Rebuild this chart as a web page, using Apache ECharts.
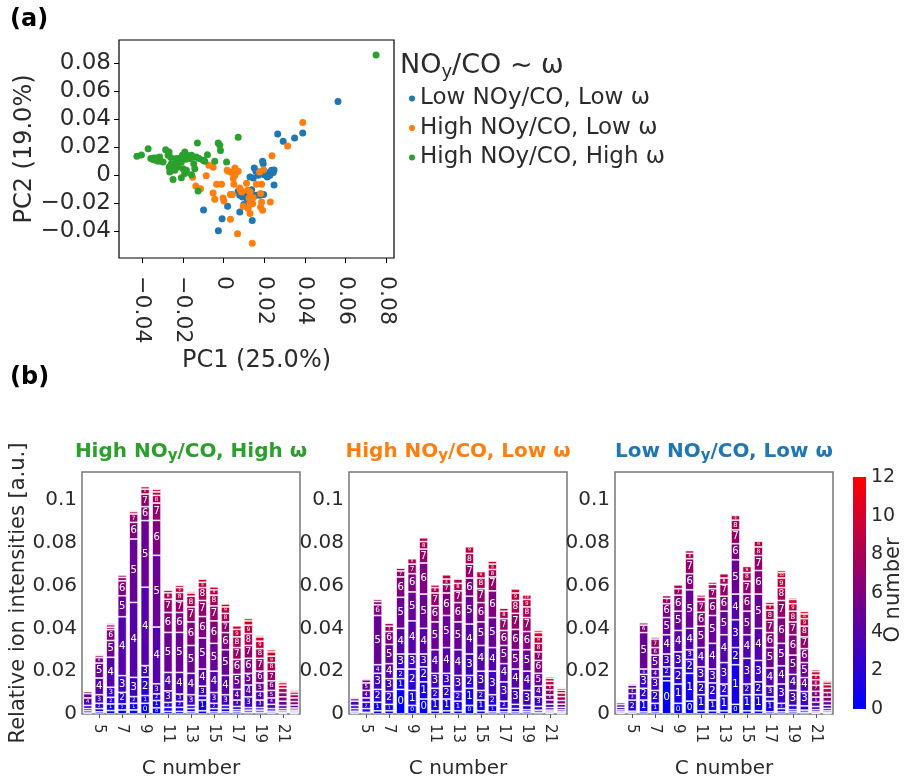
<!DOCTYPE html>
<html>
<head>
<meta charset="utf-8">
<script src="https://cdn.jsdelivr.net/npm/echarts@6/dist/echarts.min.js"></script>
<style>
  html, body { margin: 0; padding: 0; background: #fff; }
  #chart { width: 905px; height: 780px; }
</style>
</head>
<body>
<div id="chart"></div>
<script>
const FONT = 'DejaVu Sans';

// ---- (a) PCA scores: [PC1, PC2] ----
const lowLow = [
  [0.0562,0.0524],[0.0266,0.0293],[0.0293,0.0240],[0.0349,0.0264],[0.0389,0.0300],
  [0.0192,0.0098],[0.0195,0.0081],[0.0151,0.0050],[0.0159,0.0026],[0.0130,-0.0014],
  [0.0146,-0.0021],[0.0170,-0.0002],[0.0179,0.0021],[0.0195,0.0026],[0.0211,0.0010],
  [0.0225,0.0017],[0.0236,0.0033],[0.0248,0.0036],[0.0244,0.0017],[0.0228,-0.0002],
  [0.0215,-0.0014],[0.0200,0.0002],[0.0248,-0.0071],[0.0097,-0.0133],[0.0113,-0.0140],
  [0.0130,-0.0133],[0.0146,-0.0145],[0.0162,-0.0145],[0.0179,-0.0145],[0.0197,-0.0140],
  [0.0072,-0.0114],[0.0080,-0.0145],[0.0093,-0.0157],[0.0138,-0.0105],[0.0116,-0.0169],
  [0.0100,-0.0210],[0.0080,-0.0264],[0.0141,-0.0326],[0.0020,-0.0224],[-0.0007,-0.0312],
  [-0.0025,-0.0398],[-0.0098,-0.0250],[0.0039,-0.0140]
];
const highLow = [
  [0.0389,0.0374],[0.0315,0.0207],[0.0238,0.0138],[0.0197,0.0038],[0.0177,0.0021],
  [-0.0072,0.0069],[-0.0051,0.0055],[-0.0085,-0.0005],[-0.0152,-0.0017],[-0.0136,-0.0079],
  [-0.0113,-0.0098],[-0.0034,-0.0067],[-0.0010,-0.0067],[-0.0051,-0.0129],[-0.0043,-0.0174],
  [-0.0002,-0.0164],[0.0002,-0.0186],[0.0023,0.0026],[0.0039,0.0017],[0.0056,0.0050],
  [0.0064,0.0021],[0.0048,-0.0026],[0.0072,0.0026],[0.0051,-0.0067],[0.0034,-0.0140],
  [0.0044,-0.0140],[0.0080,-0.0093],[0.0084,-0.0110],[0.0089,-0.0121],[0.0113,-0.0060],
  [0.0118,-0.0110],[0.0126,-0.0164],[0.0130,-0.0193],[0.0097,-0.0224],[0.0121,-0.0240],
  [0.0130,-0.0276],[0.0143,-0.0205],[0.0161,-0.0067],[0.0187,-0.0067],[0.0182,-0.0133],
  [0.0187,-0.0193],[0.0182,-0.0229],[0.0192,-0.0252],[0.0230,-0.0193],[0.0069,-0.0419],
  [0.0141,-0.0488],[0.0034,-0.0317],[0.0018,0.0033],[0.0130,-0.0121],[0.0146,-0.0162],
  [0.0056,-0.0002]
];
const highHigh = [
  [0.0749,0.0857],[0.0072,0.0269],[-0.0425,0.0133],[-0.0403,0.0143],[-0.0370,0.0188],
  [-0.0357,0.0117],[-0.0346,0.0110],[-0.0333,0.0105],[-0.0321,0.0098],[-0.0310,0.0102],
  [-0.0297,0.0093],[-0.0330,0.0121],[-0.0343,0.0121],[-0.0284,0.0181],[-0.0267,0.0164],
  [-0.0259,0.0124],[-0.0256,0.0081],[-0.0267,0.0057],[-0.0248,0.0069],[-0.0248,-0.0033],
  [-0.0207,-0.0019],[-0.0190,0.0010],[-0.0182,0.0033],[-0.0198,0.0045],[-0.0223,0.0057],
  [-0.0215,0.0117],[-0.0207,0.0093],[-0.0190,0.0164],[-0.0179,0.0140],[-0.0166,0.0117],
  [-0.0141,0.0045],[-0.0133,0.0129],[-0.0128,0.0229],[-0.0100,0.0105],[-0.0092,0.0098],
  [-0.0079,0.0145],[-0.0043,0.0098],[-0.0026,0.0229],[-0.0018,0.0212],[-0.0015,0.0174],
  [0.0015,0.0093],[-0.0125,-0.0114],[-0.0157,0.0002],[-0.0234,0.0086],[-0.0272,0.0140],
  [-0.0313,0.0129],[-0.0231,0.0117],[-0.0157,0.0140],[-0.0149,0.0129],[-0.0264,0.0021],
  [-0.0239,0.0033],[-0.0185,0.0112],[-0.0146,0.0081],[-0.0120,0.0117],[-0.0202,0.0140]
];
const pcTicks = [-0.04, -0.02, 0, 0.02, 0.04, 0.06, 0.08];
const groupNames = ['Low NOy/CO, Low ω', 'High NOy/CO, Low ω', 'High NOy/CO, High ω'];

// ---- (b) ion intensities by C number, split by O number (O0, O1, ... ), units of 1e-3 ----
const cNumbers = [4,5,6,7,8,9,10,11,12,13,14,15,16,17,18,19,20,21,22];
const oNumbers = [0,1,2,3,4,5,6,7,8,9,10,11,12];
const stackHighHigh = [
  [0.5,1.0,1.0,1.5,3.5,2.0,1.0,0.3,0.2],
  [1.0,1.5,2.5,4.0,7.8,7.0,2.5,1.0,0.6,0.2],
  [1.6,3.1,3.1,4.7,14.0,7.8,5.1,1.1,1.2,0.6],
  [1.9,2.8,5.4,7.8,27.5,9.8,7.0,1.6,1.1],
  [1.9,3.1,3.1,9.0,35.0,29.6,7.8,3.9,1.1,0.5],
  [5.0,3.6,8.6,5.4,36.6,31.1,6.5,5.9,2.3,1.2],
  [2.9,3.4,3.1,4.7,26.5,33.5,16.3,8.1,3.6,1.6,1.2],
  [1.2,1.9,2.3,5.4,8.6,18.7,9.3,6.2,3.0,1.2],
  [1.2,1.9,2.8,3.4,10.1,18.7,9.3,5.4,3.9,2.3,1.1],
  [1.0,1.5,1.5,5.0,10.0,13.0,11.0,7.0,5.0,1.5,0.7],
  [1.5,5.0,2.0,4.5,8.0,14.5,10.0,7.5,6.0,2.5,1.5],
  [1.0,1.5,2.5,5.0,10.0,13.0,10.5,7.0,5.0,2.5,1.4],
  [1.0,1.5,1.5,5.0,9.0,12.0,8.0,5.0,4.0,3.0,1.4],
  [1.0,1.0,1.5,3.0,5.0,7.0,7.0,5.5,5.0,3.5,1.7],
  [0.8,1.0,1.2,5.0,5.5,5.5,7.0,6.0,5.5,4.0,2.0,1.1],
  [0.8,1.0,1.2,3.5,4.0,4.0,5.5,6.0,4.5,3.5,2.0,0.7],
  [0.5,0.8,1.2,2.0,3.0,3.5,4.5,4.5,4.0,3.0,2.0,1.0],
  [0.3,0.5,0.7,1.0,1.5,2.0,2.0,2.0,2.0,1.5,1.2,0.6],
  [0.2,0.4,0.5,0.7,1.0,1.4,1.6,1.7,1.6,1.2,0.8,0.5]
];
const stackHighLow = [
  [0.5,0.8,1.2,1.5,2.0,1.2,0.6,0.3,0.2],
  [0.8,1.7,3.0,2.0,3.5,3.5,1.5,0.6,0.3],
  [1.5,4.0,6.0,7.5,4.0,23.0,5.0,1.5,1.0],
  [1.5,3.0,6.0,6.0,7.0,9.0,6.0,2.5,1.4],
  [11.5,5.0,4.5,7.0,12.0,14.5,9.5,2.8,1.3],
  [4.0,7.0,10.0,7.0,15.5,13.5,8.5,4.5,2.5],
  [7.0,8.0,7.0,6.0,12.0,16.0,14.5,6.5,3.5,1.8],
  [1.5,5.5,5.0,7.0,11.0,13.0,7.5,6.0,2.5,1.3],
  [1.5,5.5,6.0,6.0,12.0,15.0,10.5,4.0,2.5,2.0],
  [1.5,4.5,4.5,7.5,12.0,13.0,9.0,5.5,3.5,2.0],
  [4.0,8.0,6.0,10.0,14.0,13.0,8.5,6.5,5.0,3.1],
  [1.5,5.0,4.5,9.0,12.0,11.0,9.0,6.5,5.0,3.0],
  [1.0,3.0,5.0,11.0,11.0,14.0,12.5,6.5,3.5,2.5,1.4],
  [1.0,1.5,3.5,9.0,8.5,8.5,7.0,5.5,3.5,1.4],
  [1.0,1.5,2.0,7.5,9.0,9.0,9.5,7.5,6.0,3.5,1.9],
  [1.0,1.0,2.0,7.0,9.0,10.0,8.5,6.5,5.0,3.5,2.1],
  [0.8,1.0,1.7,4.5,5.0,6.0,6.0,4.0,4.0,3.0,2.0,1.0],
  [0.4,0.6,0.8,1.2,1.6,2.0,2.3,2.4,2.2,1.8,1.4,0.7,0.3],
  [0.2,0.4,0.6,0.8,1.1,1.5,1.7,1.8,1.7,1.3,0.9,0.5,0.3]
];
const stackLowLow = [
  [0.4,0.6,0.9,1.2,1.3,0.9,0.4,0.2,0.1],
  [0.5,0.8,5.2,3.0,2.5,1.5,0.6,0.3],
  [1.0,5.5,5.5,6.5,2.5,17.0,3.5,1.1],
  [1.0,4.0,6.0,6.0,4.0,6.5,3.5,4.0,0.9],
  [15.5,2.0,4.5,6.0,9.0,8.0,6.5,2.5,1.3],
  [5.0,9.0,7.5,7.5,10.0,9.0,7.5,3.0,1.8],
  [6.0,13.0,6.5,4.5,10.0,18.0,7.5,7.0,2.5,1.3],
  [1.5,7.5,6.0,7.0,9.0,10.0,6.5,5.0,2.0,1.1],
  [1.5,5.0,8.0,6.5,12.0,13.0,8.0,4.5,2.0,1.1],
  [1.5,7.0,5.5,10.0,13.0,11.0,7.0,5.5,3.0,2.0],
  [4.5,18.5,8.0,13.0,12.0,16.0,7.5,6.5,4.5,2.2],
  [1.5,7.5,5.0,12.0,11.0,11.0,8.0,6.0,4.0,2.9],
  [1.5,7.5,6.0,10.0,15.0,16.0,11.0,7.0,4.0,2.7],
  [1.0,5.0,2.0,5.0,8.5,9.5,7.0,6.0,4.5,2.5,1.2],
  [1.0,1.5,2.5,9.0,8.5,10.5,12.0,8.0,6.0,4.5,2.5,1.0],
  [1.0,1.0,2.0,7.0,7.5,9.0,9.5,6.0,5.0,3.5,2.0,0.7],
  [0.8,1.0,2.0,6.7,6.5,7.0,6.5,5.5,5.0,3.5,2.2,1.2],
  [0.4,0.6,1.0,1.5,2.0,2.4,2.7,2.8,2.6,2.2,1.6,0.9,0.4],
  [0.3,0.5,0.7,1.1,1.5,1.8,2.0,2.1,2.0,1.7,1.3,0.8,0.3]
];
const colorbarTicks = [0, 2, 4, 6, 8, 10, 12];

// ---- layout ----
const TXT = '#2b2b2b';
const BAR_TOP = 472, BAR_H = 242, BAR_W = 218, BAR_MAX = 0.113;
const panels = [
  { left: 82,  rows: stackHighHigh, color: '#2ca02c', pre: 'High NO', post: '/CO, High ω' },
  { left: 349, rows: stackHighLow,  color: '#ff7f0e', pre: 'High NO', post: '/CO, Low ω' },
  { left: 615, rows: stackLowLow,   color: '#1f77b4', pre: 'Low NO',  post: '/CO, Low ω' }
];

function oColor(o) {
  const t = o / 12;
  return 'rgb(' + Math.round(255 * t) + ',0,' + Math.round(255 * (1 - t)) + ')';
}
function pcLabel(v) {
  const r = Math.round(v * 100) / 100;
  return r < 0 ? '\u2212' + Math.abs(r) : String(r);
}
const oddC = (i, v) => Number(v) % 2 === 1;

const grid = [
  { left: 119, top: 40, width: 275, height: 218, show: true, borderColor: '#000', borderWidth: 1.2, outerBoundsMode: 'none' }
];
const xAxis = [{
  type: 'value', gridIndex: 0, min: -0.0513, max: 0.0837,
  axisLine: { show: false, onZero: false }, splitLine: { show: false },
  axisTick: { show: true, customValues: pcTicks, length: 5, lineStyle: { color: '#000' } },
  axisLabel: { customValues: pcTicks, rotate: -90, margin: 18, fontSize: 22, color: TXT, fontFamily: FONT, formatter: pcLabel },
  name: 'PC1 (25.0%)', nameLocation: 'middle', nameGap: 91,
  nameTextStyle: { fontSize: 24, color: TXT, fontFamily: FONT }
}];
const yAxis = [{
  type: 'value', gridIndex: 0, min: -0.0593, max: 0.0964,
  axisLine: { show: false, onZero: false }, splitLine: { show: false },
  axisTick: { show: true, customValues: pcTicks, length: 5, lineStyle: { color: '#000' } },
  axisLabel: { customValues: pcTicks, margin: 8, fontSize: 23, color: TXT, fontFamily: FONT, formatter: pcLabel },
  name: 'PC2 (19.0%)', nameLocation: 'middle', nameGap: 72, nameRotate: 90,
  nameTextStyle: { fontSize: 24, color: TXT, fontFamily: FONT }
}];

const series = [];
[lowLow, highLow, highHigh].forEach((pts, i) => {
  series.push({
    type: 'scatter', name: groupNames[i], xAxisIndex: 0, yAxisIndex: 0,
    data: pts, symbolSize: 7,
    itemStyle: { color: ['#1f77b4', '#ff7f0e', '#2ca02c'][i], opacity: 1 }
  });
});

const pxPerUnit = BAR_H / BAR_MAX / 1000;
panels.forEach((p, k) => {
  const gi = k + 1;
  grid.push({ left: p.left, top: BAR_TOP, width: BAR_W, height: BAR_H, show: true,
              borderColor: '#777', borderWidth: 1.5, outerBoundsMode: 'none' });
  xAxis.push({
    type: 'category', gridIndex: gi, data: cNumbers.map(String), boundaryGap: true,
    axisLine: { show: false, onZero: false },
    axisTick: { show: true, interval: oddC, alignWithLabel: true, length: 4, lineStyle: { color: '#555' } },
    axisLabel: { interval: oddC, rotate: -90, margin: 10, fontSize: 15, color: TXT, fontFamily: FONT },
    name: 'C number', nameLocation: 'middle', nameGap: 45,
    nameTextStyle: { fontSize: 20, color: TXT, fontFamily: FONT }
  });
  yAxis.push({
    type: 'value', gridIndex: gi, min: 0, max: BAR_MAX, interval: 0.02,
    axisLine: { show: false, onZero: false }, axisTick: { show: false }, splitLine: { show: false },
    axisLabel: { fontSize: 20, margin: 5, color: TXT, fontFamily: FONT, showMaxLabel: false },
    name: k === 0 ? 'Relative ion intensities [a.u.]' : '', nameLocation: 'middle', nameGap: 42, nameRotate: 90,
    nameTextStyle: { fontSize: 21, color: TXT, fontFamily: FONT }
  });
  oNumbers.forEach(o => {
    series.push({
      type: 'bar', xAxisIndex: gi, yAxisIndex: gi, stack: 'panel' + k,
      barCategoryGap: '22%',
      itemStyle: { color: oColor(o), borderColor: '#fff', borderWidth: 0.7 },
      label: { show: true, position: 'inside', color: '#fff', fontFamily: FONT, formatter: String(o) },
      data: p.rows.map(row => {
        const v = row[o];
        if (!v) return '-';
        const fs = Math.min(10, v * pxPerUnit * 0.7);
        return { value: v / 1000, label: { show: fs >= 3, fontSize: fs } };
      })
    });
  });
});

// colour bar for O number
grid.push({ left: 853, top: 477, width: 13, height: 232, outerBoundsMode: 'none' });
xAxis.push({ type: 'category', gridIndex: 4, data: [''], show: false });
yAxis.push({
  type: 'value', gridIndex: 4, min: 0, max: 12, interval: 2, position: 'right',
  axisLine: { show: false }, axisTick: { show: false }, splitLine: { show: false },
  axisLabel: { fontSize: 19, margin: 5, color: TXT, fontFamily: FONT, customValues: colorbarTicks }
});
series.push({
  type: 'bar', xAxisIndex: 4, yAxisIndex: 4, data: [12], barWidth: '100%', silent: true,
  itemStyle: { color: new echarts.graphic.LinearGradient(0, 1, 0, 0, [
    { offset: 0, color: oColor(0) }, { offset: 1, color: oColor(12) }
  ]) }
});

const graphic = [
  { type: 'text', x: 10, y: 8, style: { text: '(a)', fontSize: 24, fontWeight: 'bold', fontFamily: FONT, fill: '#000' } },
  { type: 'text', x: 10, y: 366, style: { text: '(b)', fontSize: 24, fontWeight: 'bold', fontFamily: FONT, fill: '#000' } },
  { type: 'text', x: 894, y: 590, rotation: Math.PI / 2,
    style: { text: 'O number', fontSize: 21, fontFamily: FONT, fill: TXT, align: 'center', verticalAlign: 'middle' } },
  { type: 'text', x: 400, y: 50, style: {
      text: '{m|NO}{s|y}{m|/CO ~ ω}', fontFamily: FONT,
      rich: {
        m: { fontSize: 27, fill: TXT, fontFamily: FONT, lineHeight: 31 },
        s: { fontSize: 18, fill: TXT, fontFamily: FONT, verticalAlign: 'top', padding: [13, 0, 0, 0], lineHeight: 18 }
      } } }
];
panels.forEach(p => {
  graphic.push({
    type: 'text', x: p.left + BAR_W / 2, y: 440,
    style: {
      text: '{m|' + p.pre + '}{s|y}{m|' + p.post + '}', align: 'center', fontFamily: FONT,
      rich: {
        m: { fontSize: 20, fontWeight: 'bold', fill: p.color, fontFamily: FONT, lineHeight: 24 },
        s: { fontSize: 15, fontWeight: 'bold', fill: p.color, fontFamily: FONT, verticalAlign: 'top', padding: [9, 0, 0, 0], lineHeight: 15 }
      }
    }
  });
});

const option = {
  animation: false,
  backgroundColor: '#fff',
  textStyle: { fontFamily: FONT },
  grid, xAxis, yAxis, series, graphic,
  legend: {
    data: groupNames, orient: 'vertical', left: 404, top: 82,
    icon: 'circle', itemWidth: 6, itemHeight: 6, itemGap: 6.5,
    textStyle: { fontSize: 23, color: TXT, fontFamily: FONT, lineHeight: 23 },
    selectedMode: false
  }
};

const chart = echarts.init(document.getElementById('chart'), null, { renderer: 'canvas' });
chart.setOption(option);
</script>
</body>
</html>
